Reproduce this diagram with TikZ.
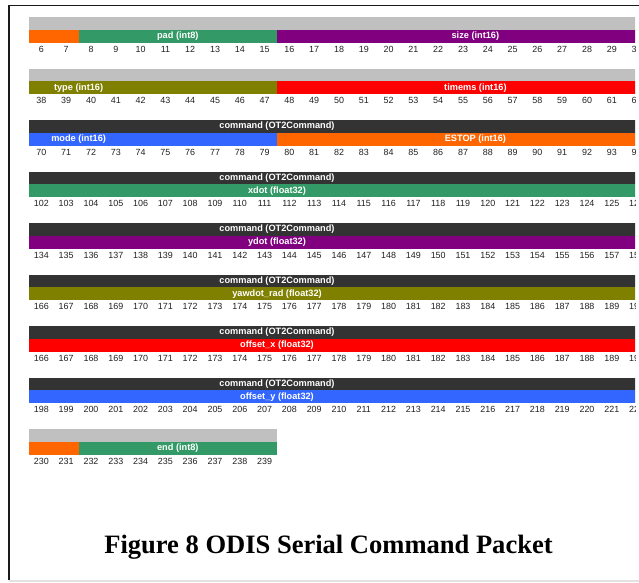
\documentclass[tikz,border=0pt]{standalone}
\usepackage{fontspec}
\setmainfont{Liberation Sans}
\newfontfamily\captionserif{Liberation Serif}

\definecolor{hdrGray}{HTML}{C0C0C0}
\definecolor{hdrDark}{HTML}{333333}
\definecolor{fOrange}{HTML}{FF6600}
\definecolor{fGreen}{HTML}{339966}
\definecolor{fPurple}{HTML}{800080}
\definecolor{fOlive}{HTML}{808000}
\definecolor{fRed}{HTML}{FF0000}
\definecolor{fBlue}{HTML}{3366FF}
\definecolor{numText}{HTML}{222222}
\definecolor{frameDark}{HTML}{1A1A1A}
\definecolor{frameLight}{HTML}{E2E2E2}

% cell geometry: left edge, cell width, bar height
\def\xL{29}
\def\cw{24.8}
\def\bh{12.85}

% #1 top y, #2 colour, #3 first cell, #4 end cell, #5 label, #6 node name
\newcommand\fieldbar[6]{%
  \fill[#2] ({\xL+(#3)*\cw},#1) rectangle ({\xL+(#4)*\cw},{#1+\bh});
  \node[fieldlabel] (#6) at ({\xL+((#3)+(#4))/2*\cw},{#1+\bh/2}) {#5};
}
% #1 top y of the row, #2 first byte number, #3 row name
\newcommand\bytenumbers[3]{%
  \foreach \k in {0,...,24}{
    \pgfmathtruncatemacro\bn{#2+\k}
    \node[bytenum] (#3-\k) at ({\xL+(\k+0.5)*\cw},{#1+32}) {\bn};
  }
}

\begin{document}
\begin{tikzpicture}[x=0.75pt,y=-0.75pt,
  fieldlabel/.style={text=white,font=\bfseries\fontsize{6.9}{8}\selectfont,inner sep=0pt},
  bytenum/.style={text=numText,font=\fontsize{6.7}{8}\selectfont,inner sep=0pt},
  figcaption/.style={font=\captionserif\bfseries\fontsize{19.9}{24}\selectfont,inner sep=0pt,anchor=base}]
\useasboundingbox (0,0) rectangle (639,582);
\fill[white] (0,0) rectangle (639,582);

% page frame
\draw[frameLight,line width=1.1pt] (9,580.8) -- (639,580.8);
\draw[frameDark,line width=1.1pt] (8,5.5) -- (639,5.5);
\draw[frameDark,line width=1.1pt] (9,5) -- (9,579.5);

\begin{scope}
\clip (\xL,0) rectangle (635,470);

% row: bytes 6..31
\fill[hdrGray] ({\xL},17) rectangle (640,{17+\bh});
\fieldbar{29.85}{fOrange}{-6}{2}{}{flagsA}
\fieldbar{29.85}{fGreen}{2}{10}{pad (int8)}{pad}
\fieldbar{29.85}{fPurple}{10}{26}{size (int16)}{size}
\bytenumbers{17}{6}{rowA}

% row: bytes 38..63
\fill[hdrGray] ({\xL},68.5) rectangle (640,{68.5+\bh});
\fieldbar{81.35}{fOlive}{-6}{10}{type (int16)}{type}
\fieldbar{81.35}{fRed}{10}{26}{timems (int16)}{timems}
\bytenumbers{68.5}{38}{rowB}

% row: bytes 70..95
\fieldbar{120}{hdrDark}{-6}{26}{command (OT2Command)}{cmdC}
\fieldbar{132.85}{fBlue}{-6}{10}{mode (int16)}{mode}
\fieldbar{132.85}{fOrange}{10}{26}{ESTOP (int16)}{estop}
\bytenumbers{120}{70}{rowC}

% row: bytes 102..127
\fieldbar{171.5}{hdrDark}{-6}{26}{command (OT2Command)}{cmdD}
\fieldbar{184.35}{fGreen}{-6}{26}{xdot (float32)}{xdot}
\bytenumbers{171.5}{102}{rowD}

% row: bytes 134..159
\fieldbar{223}{hdrDark}{-6}{26}{command (OT2Command)}{cmdE}
\fieldbar{235.85}{fPurple}{-6}{26}{ydot (float32)}{ydot}
\bytenumbers{223}{134}{rowE}

% row: bytes 166..191
\fieldbar{274.5}{hdrDark}{-6}{26}{command (OT2Command)}{cmdF}
\fieldbar{287.35}{fOlive}{-6}{26}{yawdot\_rad (float32)}{yawdot}
\bytenumbers{274.5}{166}{rowF}

% row: offset_x
\fieldbar{326}{hdrDark}{-6}{26}{command (OT2Command)}{cmdG}
\fieldbar{338.85}{fRed}{-6}{26}{offset\_x (float32)}{offsetx}
\bytenumbers{326}{166}{rowG}

% row: bytes 198..223
\fieldbar{377.5}{hdrDark}{-6}{26}{command (OT2Command)}{cmdH}
\fieldbar{390.35}{fBlue}{-6}{26}{offset\_y (float32)}{offsety}
\bytenumbers{377.5}{198}{rowH}

% row: bytes 230..239
\fill[hdrGray] ({\xL},429) rectangle ({\xL+10*\cw},{429+\bh});
\fieldbar{441.85}{fOrange}{-6}{2}{}{flagsI}
\fieldbar{441.85}{fGreen}{2}{10}{end (int8)}{endfield}
\foreach \k in {0,...,9}{
  \pgfmathtruncatemacro\bn{230+\k}
  \node[bytenum] (rowI-\k) at ({\xL+(\k+0.5)*\cw},461) {\bn};
}
\end{scope}

\node[figcaption] (caption) at (328.5,553) {Figure 8 ODIS Serial Command Packet};
\end{tikzpicture}
\end{document}
